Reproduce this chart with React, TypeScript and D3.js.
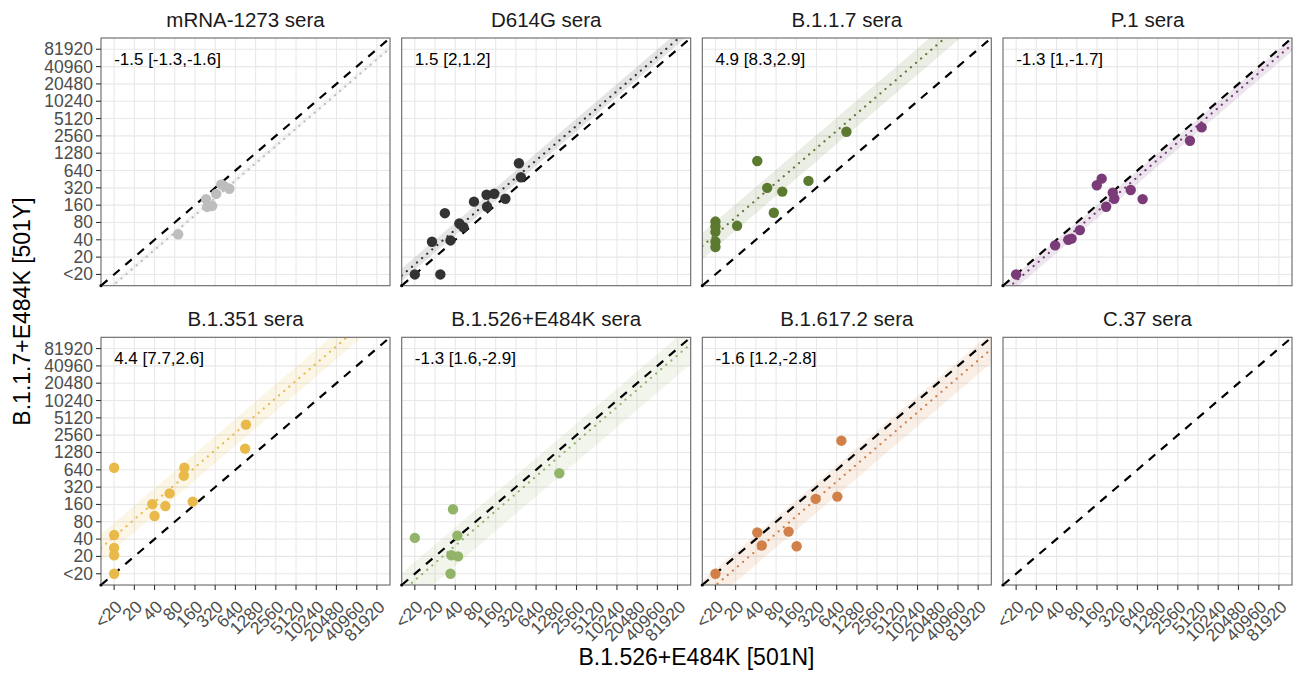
import React from 'react';
import * as d3 from 'd3';

// facet titles, one colour per serum group
const panelTitles = [
  'mRNA-1273 sera', 'D614G sera', 'B.1.1.7 sera', 'P.1 sera',
  'B.1.351 sera', 'B.1.526+E484K sera', 'B.1.617.2 sera', 'C.37 sera',
];
const panelColors = ['#bdbdbd', '#333333', '#5b7a2f', '#7b3b78', '#e9b949', '#92b469', '#d08048', '#999999'];

// fold change (501Y vs 501N) with its interval, signed as printed
const foldChange = [-1.5, 1.5, 4.9, -1.3, 4.4, -1.3, -1.6, null];
const foldHigh = [-1.3, 2, 8.3, 1, 7.7, 1.6, 1.2, null];
const foldLow = [-1.6, 1.2, 2.9, -1.7, 2.6, -2.9, -2.8, null];

const titerTicks = [10, 20, 40, 80, 160, 320, 640, 1280, 2560, 5120, 10240, 20480, 40960, 81920];
const titerTickLabels = ['<20', '20', '40', '80', '160', '320', '640', '1280', '2560', '5120', '10240', '20480', '40960', '81920'];

// [B.1.526+E484K 501N titer, B.1.1.7+E484K 501Y titer]
const mrnaSera = [[90, 50], [234, 204], [243, 149], [288, 155], [331, 251], [394, 368], [437, 343], [520, 309]];
const d614gSera = [[10, 10], [24, 10], [18, 37], [28, 116], [34, 39], [46, 77], [53, 66], [76, 184], [117, 243], [152, 253], [119, 150], [223, 207], [355, 856], [380, 488]];
const b117Sera = [[10, 83], [10, 68], [10, 55], [10, 37], [10, 30], [21, 70], [42, 937], [59, 320], [74, 118], [99, 275], [243, 422], [893, 3024]];
const p1Sera = [[10, 10], [38, 32], [60, 40], [67, 42], [89, 59], [159, 355], [188, 462], [219, 150], [275, 264], [290, 207], [509, 294], [766, 204], [3880, 2109], [5802, 3596]];
const b1351Sera = [[10, 10], [10, 21], [10, 28], [10, 47], [10, 696], [37, 161], [40, 101], [58, 150], [67, 249], [109, 506], [111, 696], [148, 179], [893, 1491], [918, 3907]];
const b1526Sera = [[10, 42], [37, 132], [34, 10], [35, 21], [44, 20], [43, 46], [1420, 557]];
const b16172Sera = [[10, 10], [42, 52], [49, 31], [123, 54], [162, 30], [311, 200], [654, 219], [751, 2052]];
const c37Sera: number[][] = [];
const panelPoints = [mrnaSera, d614gSera, b117Sera, p1Sera, b1351Sera, b1526Sera, b16172Sera, c37Sera];

const W = 1300;
const H = 675;
const panelLefts = [101, 401.7, 702.3, 1003];
const panelTops = [38, 337.3];
const panelW = 289;
const panelH = 247.7;
const domain = [10 * Math.pow(2, -0.65), 10 * Math.pow(2, 13.65)];
const annotY = 10 * Math.pow(2, 12.4);
const font = '"Liberation Sans", Arial, Helvetica, sans-serif';

const mult = (f: number) => (f >= 0 ? f : -1 / f);

const Panel = ({ i }: { i: number }) => {
  const col = i % 4;
  const row = Math.floor(i / 4);
  const x = d3.scaleLog().base(2).domain(domain).range([0, panelW]);
  const y = d3.scaleLog().base(2).domain(domain).range([panelH, 0]);
  const color = panelColors[i];
  const fc = foldChange[i];
  const clipId = `clip-${i}`;
  const line = d3.line<number[]>().x(d => x(d[0])).y(d => y(d[1]));

  let band = null;
  let fit = null;
  let label = null;
  if (fc !== null) {
    const hi = mult(foldHigh[i] as number);
    const lo = mult(foldLow[i] as number);
    const m = mult(fc);
    const poly = [
      [domain[0], domain[0] * hi], [domain[1], domain[1] * hi],
      [domain[1], domain[1] * lo], [domain[0], domain[0] * lo],
    ];
    band = <path d={line(poly) + 'Z'} fill={color} fillOpacity={0.13} />;
    fit = (
      <path d={line([[domain[0], domain[0] * m], [domain[1], domain[1] * m]]) || ''}
        stroke={color} strokeWidth={2.2} strokeDasharray="0.1 6.6" strokeLinecap="round" fill="none" />
    );
    label = (
      <text x={x(titerTicks[0])} y={y(annotY)} dominantBaseline="central" fontSize={17} fill="#000">
        {`${fc} [${foldHigh[i]},${foldLow[i]}]`}
      </text>
    );
  }

  return (
    <g transform={`translate(${panelLefts[col]},${panelTops[row]})`}>
      <defs>
        <clipPath id={clipId}><rect width={panelW} height={panelH} /></clipPath>
      </defs>
      <rect width={panelW} height={panelH} fill="#fff" />
      {titerTicks.map(t => (
        <g key={t}>
          <line x1={x(t)} x2={x(t)} y1={0} y2={panelH} stroke="#e8e8e8" strokeWidth={1.1} />
          <line x1={0} x2={panelW} y1={y(t)} y2={y(t)} stroke="#e8e8e8" strokeWidth={1.1} />
        </g>
      ))}
      <g clipPath={`url(#${clipId})`}>
        {band}
        {fit}
        <path d={line([[domain[0], domain[0]], [domain[1], domain[1]]]) || ''}
          stroke="#000" strokeWidth={2.2} strokeDasharray="8.5 7.5" fill="none" />
        {panelPoints[i].map((d, k) => (
          <circle key={k} cx={x(d[0])} cy={y(d[1])} r={5.2} fill={color} />
        ))}
      </g>
      {label}
      <rect width={panelW} height={panelH} fill="none" stroke="#666" strokeWidth={1.1} />
      <circle cx={0} cy={panelH} r={1.6} fill="#000" />
      <text x={panelW / 2} y={-11} textAnchor="middle" fontSize={20.5} fill="#1a1a1a">{panelTitles[i]}</text>
      {col === 0 && titerTicks.map((t, k) => (
        <g key={'y' + t}>
          <line x1={-5} x2={0} y1={y(t)} y2={y(t)} stroke="#333" strokeWidth={1.1} />
          <text x={-8} y={y(t)} dominantBaseline="central" textAnchor="end" fontSize={17.5} fill="#4d4d4d">
            {titerTickLabels[k]}
          </text>
        </g>
      ))}
      {row === 1 && titerTicks.map((t, k) => (
        <g key={'x' + t}>
          <line x1={x(t)} x2={x(t)} y1={panelH} y2={panelH + 5} stroke="#333" strokeWidth={1.1} />
          <text transform={`translate(${x(t) + 9},${panelH + 23}) rotate(-45)`} textAnchor="end"
            fontSize={17.5} fill="#4d4d4d">
            {titerTickLabels[k]}
          </text>
        </g>
      ))}
    </g>
  );
};

export default function App() {
  return (
    <svg width={W} height={H} style={{ position: 'absolute', left: 0, top: 0, background: '#fff' }}
      fontFamily={font}>
      <rect width={W} height={H} fill="#fff" />
      {panelTitles.map((_, i) => <Panel key={i} i={i} />)}
      <text transform={`translate(22,${(panelTops[0] + panelTops[1] + panelH) / 2}) rotate(-90)`}
        textAnchor="middle" dominantBaseline="central" fontSize={23} fill="#000">
        B.1.1.7+E484K [501Y]
      </text>
      <text x={(panelLefts[0] + panelLefts[3] + panelW) / 2} y={657} textAnchor="middle"
        dominantBaseline="central" fontSize={23} fill="#000">
        B.1.526+E484K [501N]
      </text>
    </svg>
  );
}
